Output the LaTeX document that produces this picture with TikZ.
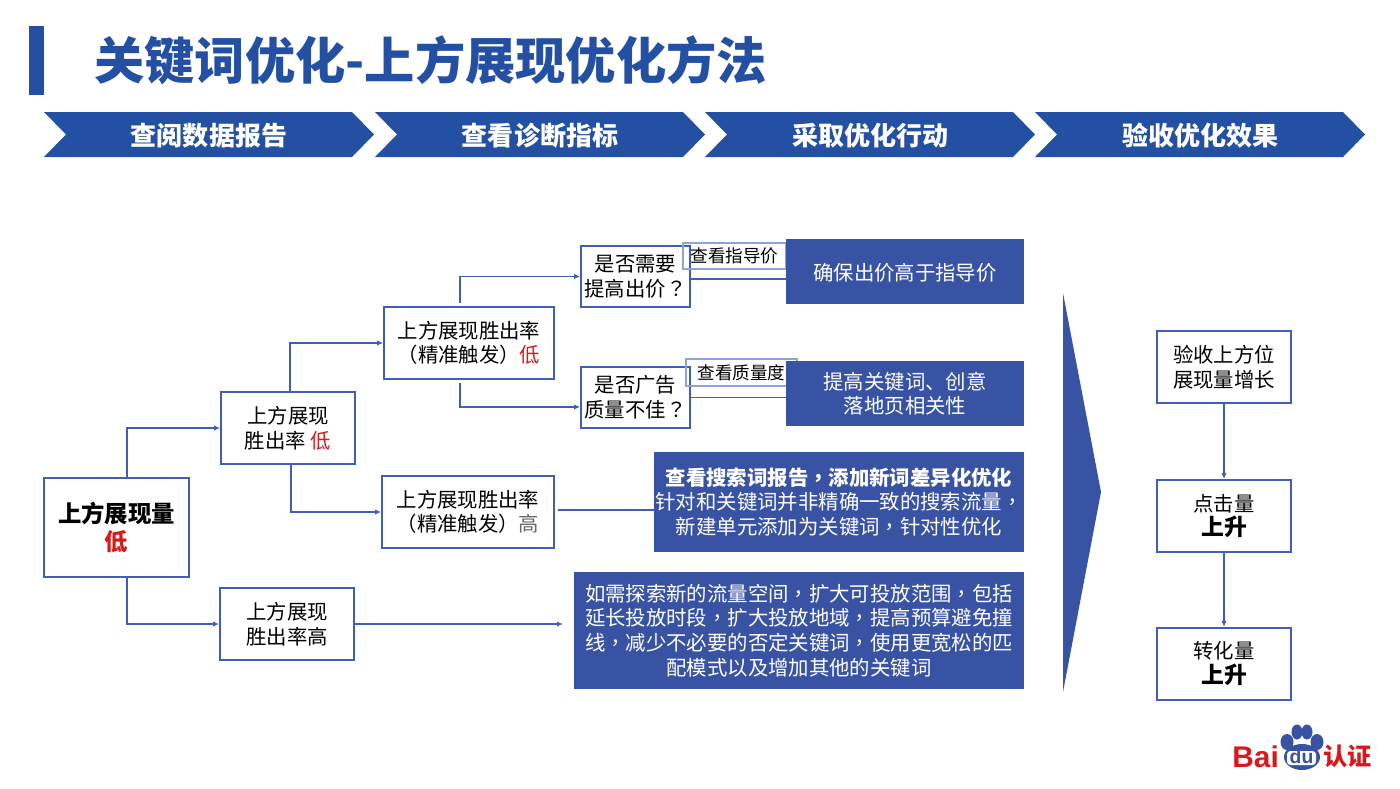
\documentclass[tikz,border=0pt]{standalone}
\usepackage{fontspec}
\setmainfont{Noto Sans CJK SC}
\newfontfamily\punctfont{Noto Sans CJK TC}
\newfontfamily\logofont{Liberation Sans}
\usetikzlibrary{positioning,arrows.meta}
\definecolor{headblue}{HTML}{2450A4}
\definecolor{fillblue}{HTML}{3953A4}
\definecolor{lineblue}{HTML}{3F5FB5}
\definecolor{thinblue}{HTML}{8FA3D6}
\definecolor{lowred}{HTML}{D7191C}
\tikzset{main node/.style={rectangle,draw=lineblue,line width=1.1pt,fill=white,inner sep=0pt,align=center,
              minimum width=2.68cm,minimum height=1.44cm,font=\fontsize{11.6}{14}\selectfont,
              execute at begin node={\rule{0pt}{1.08em}}},
         ask node/.style={main node,minimum width=2.18cm,minimum height=1.22cm},
         action node/.style={rectangle,fill=fillblue,text=white,inner sep=0pt,align=center,
              font=\fontsize{11.6}{14}\selectfont,
              execute at begin node={\rule{0pt}{.98em}}},
         look node/.style={rectangle,draw=thinblue,line width=.6pt,inner sep=0pt,
              font=\fontsize{10}{12}\selectfont},
         link/.style={draw=lineblue,line width=.6pt},
         flow/.style={link,-{Latex[length=3.4pt,width=3pt]}},
            }
\newcommand{\low}[1]{\textcolor{lowred}{#1}}
\newcommand{\pc}[1]{{\punctfont #1}}

\begin{document}
\begin{tikzpicture}[x=.02cm,y=-.02cm]
    \useasboundingbox (0,0) rectangle (1400,788);

    % title
    \fill[headblue] (29,26) rectangle (44,95);
    \node[anchor=west,inner sep=0pt,text=headblue,font=\fontsize{28.6}{32}\selectfont\bfseries] (title) at (94,60) {关键词优化-上方展现优化方法};

    % chevrons
    \foreach \x/\i/\t in {44/1/查阅数据报告,375/2/查看诊断指标,705/3/采取优化行动,1035/4/验收优化效果} {
      \fill[headblue] (\x,112) -- ++(308,0) -- ++(22,22.5) -- ++(-22,22.5) -- ++(-308,0) -- ++(22,-22.5) -- cycle;
      \node[text=white,inner sep=0pt,font=\fontsize{14.8}{17}\selectfont\bfseries] (head\i) at (\x+165,135.5) {\t};
    }

    % left tree
    \node[main node,minimum width=2.9cm,minimum height=1.98cm,font=\fontsize{13.3}{15.4}\selectfont\bfseries] (root) at (116.5,527.5) {上方展现量\\\low{低}};
    \node[main node] (rateA) at (288,428) {上方展现\\胜出率 \low{低}};
    \node[main node] (rateB) at (287,624) {上方展现\\胜出率高};
    \node[main node,minimum width=3.4cm] (exactA) at (469,343) {上方展现胜出率\\\pc{（}精准触发\pc{）}\low{低}};
    \node[main node,minimum width=3.44cm] (exactB) at (468,512) {上方展现胜出率\\\pc{（}精准触发\pc{）}\textcolor{black!60}{高}};
    \node[ask node] (bid) at (635.5,276.5) {是否需要\\提高出价\pc{？}};
    \node[ask node] (qual) at (635.5,397.5) {是否广告\\质量不佳\pc{？}};

    \node[look node,minimum width=2.06cm,minimum height=.52cm] (lookA) at (734.5,256) {查看指导价\hspace{.1cm}};
    \node[look node,minimum width=2.22cm,minimum height=.54cm] (lookB) at (741.5,372.5) {查看质量度\hspace{.26cm}};

    % blue boxes
    \node[action node,minimum width=4.76cm,minimum height=1.3cm] (raise) at (905,271.5) {确保出价高于指导价};
    \node[action node,minimum width=4.76cm,minimum height=1.3cm] (improve) at (905,393.5) {提高关键词、创意\\落地页相关性};
    \node[action node,minimum width=7.4cm,minimum height=2cm] (terms) at (839,502) {\textbf{查看搜索词报告\pc{，}添加新词差异化优化}\hspace{.1cm}\\针对和关键词并非精确一致的搜索流量\pc{，}\\新建单元添加为关键词\pc{，}针对性优化};
    \node[action node,minimum width=9cm,minimum height=2.34cm] (space) at (799,630.5) {如需探索新的流量空间\pc{，}扩大可投放范围\pc{，}包括\\延长投放时段\pc{，}扩大投放地域\pc{，}提高预算避免撞\\线\pc{，}减少不必要的否定关键词\pc{，}使用更宽松的匹\\配模式以及增加其他的关键词};

    \coordinate (spaceEnd) at (563,624);

    \draw[flow] ([xshift=.21cm]root.north) |- (rateA.west);
    \draw[flow] ([xshift=.21cm]root.south) |- (rateB.west);
    \draw[flow] ([xshift=.04cm]rateA.north) |- (exactA.west);
    \draw[flow] ([xshift=.06cm]rateA.south) |- (exactB.west);
    \draw[flow] ([xshift=-.18cm,yshift=.06cm]exactA.north) |- (bid.west);
    \draw[flow] ([xshift=-.18cm,yshift=-.06cm]exactA.south) |- ([yshift=-.19cm]qual.west);
    \draw[link] ([yshift=-.05cm]bid.east) -- ([yshift=-.05cm]bid.east -| raise.west);
    \draw[link] (qual.east) -- (qual.east -| improve.west);
    \draw[link] ([xshift=.06cm,yshift=.04cm]exactB.east) -- ([yshift=.04cm]exactB.east -| terms.west);
    \draw[flow] (rateB.east) -- (spaceEnd);

    % big arrow
    \fill[fillblue] (1063,293) -- (1101,492) -- (1063,692) -- cycle;

    % right column
    \node[main node] (check) at (1224,367) {验收上方位\\展现量增长};
    \node[main node] (click) [below = 1.5cm of check] {点击量\\\textbf{\fontsize{13}{14}\selectfont 上升}};
    \node[main node] (conv) [below = 1.48cm of click] {转化量\\\textbf{\fontsize{13}{14}\selectfont 上升}};
    \draw[flow] (check) -- (click);
    \draw[flow] (click) -- (conv);

    % logo
    \node[anchor=base west,inner sep=0pt,text=lowred,font=\logofont\fontsize{17}{20}\selectfont\bfseries] (bai) at (1232,767) {Bai};
    \fill[fillblue] (1287,742) ellipse (6.5 and 8) (1297,732) ellipse (5.5 and 7.5) (1307,732) ellipse (5.5 and 7.5) (1317,742) ellipse (6.5 and 8) (1302,757) ellipse (18 and 13);
    \fill[white,rounded corners=2pt] (1287,751) rectangle (1316,765);
    \node[text=fillblue,inner sep=0pt,font=\logofont\fontsize{11}{12}\selectfont\bfseries] (du) at (1301.5,757) {du};
    \node[anchor=base west,inner sep=0pt,text=lowred,font=\fontsize{13.8}{16}\selectfont\bfseries] (cert) at (1323,765) {认证};
\end{tikzpicture}
\end{document}
